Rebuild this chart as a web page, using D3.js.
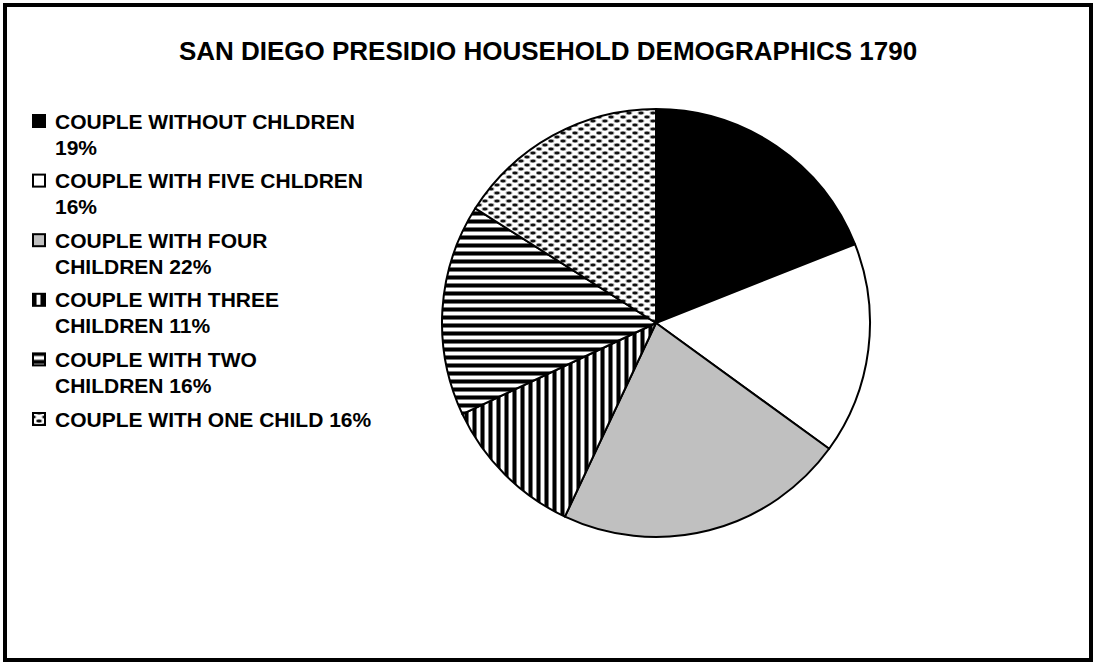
<!DOCTYPE html>
<html>
<head>
<meta charset="utf-8">
<script src="https://cdn.jsdelivr.net/npm/d3@7"></script>
<style>
  body { margin: 0; background: #fff; }
  svg { display: block; }
  text { font-family: "Liberation Sans", Arial, sans-serif; font-weight: bold; fill: #000; }
</style>
</head>
<body>
<svg id="chart" width="1095" height="665"></svg>
<script>
var title = "SAN DIEGO PRESIDIO HOUSEHOLD DEMOGRAPHICS 1790";
var categories = ["COUPLE WITHOUT CHLDREN", "COUPLE WITH FIVE CHLDREN", "COUPLE WITH FOUR CHILDREN",
                  "COUPLE WITH THREE CHILDREN", "COUPLE WITH TWO CHILDREN", "COUPLE WITH ONE CHILD"];
var values = [19, 16, 22, 11, 16, 16];
// legend text as it wraps in the original
var legendLines = [
    ["COUPLE WITHOUT CHLDREN", "19%"],
    ["COUPLE WITH FIVE CHLDREN", "16%"],
    ["COUPLE WITH FOUR", "CHILDREN 22%"],
    ["COUPLE WITH THREE", "CHILDREN 11%"],
    ["COUPLE WITH TWO", "CHILDREN 16%"],
    ["COUPLE WITH ONE CHILD 16%"]
];
var fills = ["#000", "#fff", "#c0c0c0", "url(#vstripe)", "url(#hstripe)", "url(#dots)"];

var svg = d3.select("#chart");
var defs = svg.append("defs");

// horizontal stripes
var hp = defs.append("pattern").attr("id", "hstripe").attr("patternUnits", "userSpaceOnUse")
    .attr("width", 8).attr("height", 8);
hp.append("rect").attr("width", 8).attr("height", 8).attr("fill", "#fff");
hp.append("rect").attr("y", 0).attr("width", 8).attr("height", 1).attr("fill", "#777");
hp.append("rect").attr("y", 1).attr("width", 8).attr("height", 3).attr("fill", "#000");
hp.append("rect").attr("y", 4).attr("width", 8).attr("height", 1).attr("fill", "#777");

// vertical stripes
var vp = defs.append("pattern").attr("id", "vstripe").attr("patternUnits", "userSpaceOnUse")
    .attr("width", 8).attr("height", 8);
vp.append("rect").attr("width", 8).attr("height", 8).attr("fill", "#fff");
vp.append("rect").attr("x", 0).attr("width", 1).attr("height", 8).attr("fill", "#777");
vp.append("rect").attr("x", 1).attr("width", 3).attr("height", 8).attr("fill", "#000");
vp.append("rect").attr("x", 4).attr("width", 1).attr("height", 8).attr("fill", "#777");

// staggered dots
var dp = defs.append("pattern").attr("id", "dots").attr("patternUnits", "userSpaceOnUse")
    .attr("width", 12).attr("height", 8);
dp.append("rect").attr("width", 12).attr("height", 8).attr("fill", "#fff");
[[3, 2], [9, 6], [-3, 6], [15, 6]].forEach(function(p) {
    dp.append("ellipse").attr("cx", p[0]).attr("cy", p[1]).attr("rx", 3.4).attr("ry", 1.9).attr("fill", "#999");
    dp.append("ellipse").attr("cx", p[0]).attr("cy", p[1]).attr("rx", 2.4).attr("ry", 1.2).attr("fill", "#111");
});

// outer frame
svg.append("rect").attr("x", 5).attr("y", 5).attr("width", 1086).attr("height", 655)
    .attr("fill", "#fff").attr("stroke", "#000").attr("stroke-width", 4);

svg.append("text").attr("x", 548).attr("y", 60).attr("text-anchor", "middle")
    .style("font-size", "26px").text(title);

// pie
var cx = 656, cy = 323, r = 214;
var pie = d3.pie().sort(null).value(function(d) { return d; });
var arc = d3.arc().innerRadius(0).outerRadius(r);

svg.append("g").attr("transform", "translate(" + cx + "," + cy + ")")
    .selectAll("path")
    .data(pie(values))
    .join("path")
    .attr("d", arc)
    .attr("fill", function(d, i) { return fills[i]; })
    .attr("stroke", "#000")
    .attr("stroke-width", 2)
    .attr("stroke-linejoin", "round");

// legend
var legendY = d3.scalePoint().domain(categories).range([121, 419]);
var item = svg.append("g").selectAll("g")
    .data(categories)
    .join("g")
    .attr("transform", function(d) { return "translate(0," + legendY(d) + ")"; });

item.append("rect")
    .attr("x", 33).attr("y", -6).attr("width", 12).attr("height", 12)
    .attr("fill", function(d, i) { return fills[i]; })
    .attr("stroke", "#000").attr("stroke-width", 2);

item.append("text")
    .attr("x", 55)
    .style("font-size", "21px")
    .selectAll("tspan")
    .data(function(d, i) { return legendLines[i]; })
    .join("tspan")
    .attr("x", 55)
    .attr("y", function(d, j) { return 7.5 + j * 26; })
    .text(function(d) { return d; });
</script>
</body>
</html>
